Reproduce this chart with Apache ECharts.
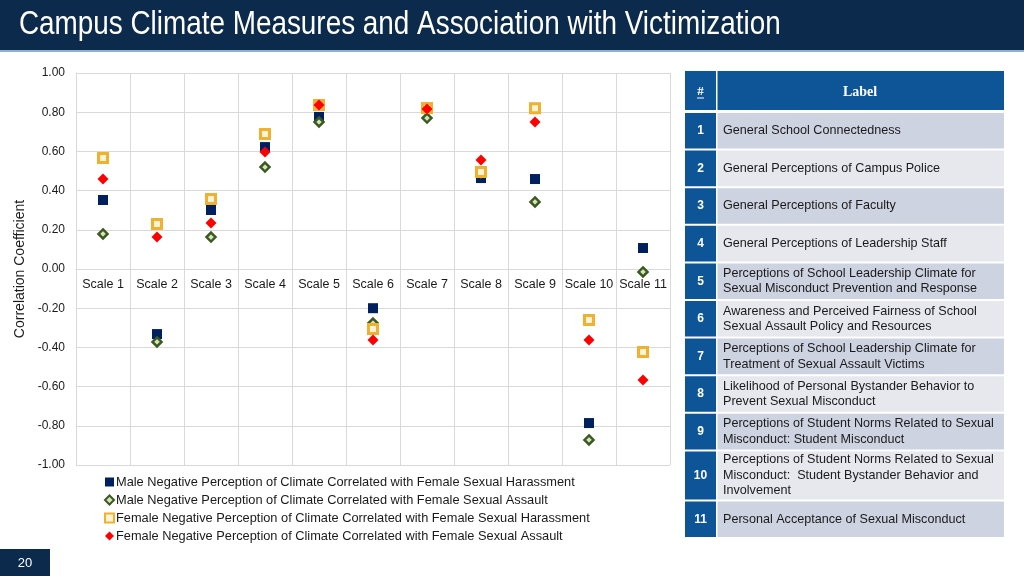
<!DOCTYPE html>
<html><head><meta charset="utf-8">
<script src="https://cdn.jsdelivr.net/npm/echarts@6/dist/echarts.min.js"></script>
<style>html,body{margin:0;padding:0;background:#fff}#c{width:1024px;height:576px}</style>
</head><body><div id="c"></div>
<script>
const categories = ['Scale 1','Scale 2','Scale 3','Scale 4','Scale 5','Scale 6','Scale 7','Scale 8','Scale 9','Scale 10','Scale 11'];
const maleHarassment   = [0.352, -0.332, 0.301, 0.622, 0.776, -0.200, 0.820, 0.464, 0.459, -0.786, 0.107];
const maleAssault      = [0.179, -0.372, 0.163, 0.520, 0.750, -0.276, 0.770, 0.490, 0.342, -0.872, -0.015];
const femaleHarassment = [0.566, 0.230, 0.357, 0.689, 0.837, -0.306, 0.822, 0.495, 0.820, -0.260, -0.424];
const femaleAssault    = [0.459, 0.163, 0.235, 0.597, 0.837, -0.362, 0.816, 0.556, 0.750, -0.362, -0.566];
const seriesNames = [
  'Male Negative Perception of Climate Correlated with Female Sexual Harassment',
  'Male Negative Perception of Climate Correlated with Female Sexual Assault',
  'Female Negative Perception of Climate Correlated with Female Sexual Harassment',
  'Female Negative Perception of Climate Correlated with Female Sexual Assault'
];
const yTicks = [-1, -0.8, -0.6, -0.4, -0.2, 0, 0.2, 0.4, 0.6, 0.8, 1];
const titleText = 'Campus Climate Measures and Association with Victimization';
const tableHeader = ['#', 'Label'];
const tableNumbers = ['1','2','3','4','5','6','7','8','9','10','11'];
const tableLabels = [
  'General School Connectedness',
  'General Perceptions of Campus Police',
  'General Perceptions of Faculty',
  'General Perceptions of Leadership Staff',
  'Perceptions of School Leadership Climate for\nSexual Misconduct Prevention and Response',
  'Awareness and Perceived Fairness of School\nSexual Assault Policy and Resources',
  'Perceptions of School Leadership Climate for\nTreatment of Sexual Assault Victims',
  'Likelihood of Personal Bystander Behavior to\nPrevent Sexual Misconduct',
  'Perceptions of Student Norms Related to Sexual\nMisconduct: Student Misconduct',
  'Perceptions of Student Norms Related to Sexual\nMisconduct:  Student Bystander Behavior and\nInvolvement',
  'Personal Acceptance of Sexual Misconduct'
];
const pageNumber = '20';

const FONT = '"Liberation Sans", Arial, sans-serif';
const chart = echarts.init(document.getElementById('c'));

const gridTop = 73, gridBottom = 111, gridH = 576 - gridTop - gridBottom;
const yMin = yTicks[0], yMax = yTicks[yTicks.length - 1];
const zeroOffset = -gridH * (0 - yMin) / (yMax - yMin);

// table graphic
const tX = 685, numW = 31, tW = 319, headTop = 71, headH = 39;
const g = [];
g.push({type:'rect', left:0, top:0, shape:{width:1024, height:50}, style:{fill:'#0B2A4C'}, silent:true});
g.push({type:'rect', left:0, top:50, shape:{width:1024, height:2}, style:{fill:'#8FB0CF'}, silent:true});
g.push({type:'text', x:16, y:25, originX:16, originY:25, scaleX:0.82, style:{text:titleText, fill:'#fff', font:'34px '+FONT, align:'left', verticalAlign:'middle'}, silent:true});
g.push({type:'rect', left:0, top:549, shape:{width:50, height:27}, style:{fill:'#0B2A4C'}, silent:true});
g.push({type:'text', x:25, y:563, style:{text:pageNumber, fill:'#fff', font:'13px '+FONT, align:'center', verticalAlign:'middle'}, silent:true});
g.push({type:'rect', left:tX, top:headTop, shape:{width:tW, height:headH}, style:{fill:'#0E5597'}, silent:true});
g.push({type:'rect', left:tX+numW, top:headTop, shape:{width:1.5, height:headH}, style:{fill:'#ffffff'}, silent:true});
g.push({type:'text', x:tX+numW/2, y:headTop+headH/2+1, style:{text:tableHeader[0], fill:'#fff', font:'bold 13px "Liberation Serif", serif', align:'center', verticalAlign:'middle'}, silent:true});
g.push({type:'rect', left:tX+numW/2-3.5, top:headTop+headH/2+7, shape:{width:7, height:1}, style:{fill:'#fff'}, silent:true});
g.push({type:'text', x:tX+numW+(tW-numW)/2, y:headTop+headH/2+2, style:{text:tableHeader[1], fill:'#fff', font:'bold 14px "Liberation Serif", serif', align:'center', verticalAlign:'middle'}, silent:true});
let y = 113;
tableLabels.forEach((lab, i) => {
  const lines = lab.split('\n').length;
  const h = lines > 2 ? 48 : 35.6;
  g.push({type:'rect', left:tX, top:y, shape:{width:numW, height:h}, style:{fill:'#0E5597'}, silent:true});
  g.push({type:'rect', left:tX+numW+1.5, top:y, shape:{width:tW-numW-1.5, height:h}, style:{fill: i%2===0 ? '#CDD3E0' : '#E6E8EE'}, silent:true});
  g.push({type:'text', x:tX+numW/2, y:y+h/2, style:{text:tableNumbers[i], fill:'#fff', font:'bold 12px '+FONT, align:'center', verticalAlign:'middle'}, silent:true});
  g.push({type:'text', x:tX+numW+7, y:y+h/2, style:{text:lab, fill:'#1a1a1a', font:'12.6px '+FONT, lineHeight:15.5, align:'left', verticalAlign:'middle'}, silent:true});
  y += h + 2;
});

const mk = (name, data, symbol, size, itemStyle) => ({
  name, type:'scatter', data, symbol, symbolSize:size, itemStyle:Object.assign({opacity:1}, itemStyle), emphasis:{disabled:true}
});

chart.setOption({
  animation:false,
  textStyle:{fontFamily:FONT},
  grid:{left:76, right:354, top:gridTop, bottom:gridBottom, containLabel:false},
  legend:{
    orient:'vertical', left:104, top:475, itemWidth:9, itemHeight:9, itemGap:4, padding:0,
    textStyle:{fontSize:12.8, color:'#1a1a1a', fontFamily:FONT, lineHeight:14, padding:[0,0,0,-3]},
    data:seriesNames
  },
  xAxis:{
    type:'category', data:categories, boundaryGap:true, position:'bottom', offset:zeroOffset,
    axisLine:{onZero:false, lineStyle:{color:'#d9d9d9'}},
    axisTick:{show:false},
    axisLabel:{color:'#1a1a1a', fontSize:12.5, margin:9, interval:0},
    splitLine:{show:true, lineStyle:{color:'#d9d9d9'}}
  },
  yAxis:{
    type:'value', min:yMin, max:yMax, interval:0.2,
    name:'Correlation Coefficient', nameLocation:'middle', nameGap:49,
    nameTextStyle:{fontSize:14, color:'#1a1a1a'},
    axisLine:{show:true, lineStyle:{color:'#d9d9d9'}},
    axisTick:{show:false},
    axisLabel:{color:'#1a1a1a', fontSize:12, margin:11, formatter:v => v.toFixed(2)},
    splitLine:{show:true, lineStyle:{color:'#d9d9d9'}}
  },
  graphic:g,
  series:[
    mk(seriesNames[0], maleHarassment, 'rect', 10, {color:'#002060'}),
    mk(seriesNames[1], maleAssault, 'diamond', 9, {color:'#D6E4BC', borderColor:'#3B5A22', borderWidth:2.5}),
    mk(seriesNames[2], femaleHarassment, 'rect', 9, {color:'#FFF3D6', borderColor:'#F0B030', borderWidth:3}),
    mk(seriesNames[3], femaleAssault, 'diamond', 11, {color:'#FF0000'})
  ]
});
</script></body></html>
